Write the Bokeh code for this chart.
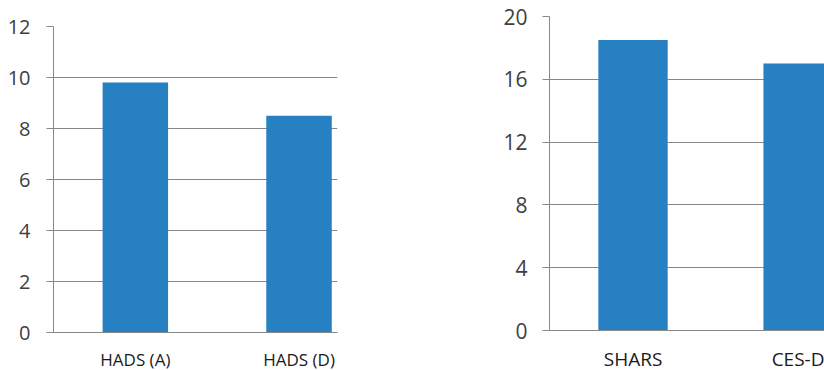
from bokeh.plotting import figure
from bokeh.layouts import row, column
from bokeh.models import Range1d, FixedTicker, SingleIntervalTicker
from bokeh.embed import file_html
from bokeh.resources import INLINE

# ---- data ----
categories_left = ["HADS (A)", "HADS (D)"]
values_left = [9.8, 8.5]
categories_right = ["SHARS", "CES-D"]
values_right = [18.5, 17.0]

BAR = "#2680C2"
GRID = "#888888"
FONT = "Open Sans"


def make(cats, vals, fw, fh, xr, yr, interval, bar_w, tick_size, cat_size,
         border, tick_standoff, cat_standoff):
    xs = list(range(len(cats)))
    p = figure(frame_width=fw, frame_height=fh, output_backend="svg", toolbar_location=None,
               title=None, x_range=Range1d(*xr), y_range=Range1d(*yr))
    p.min_border_left, p.min_border_right, p.min_border_top, p.min_border_bottom = border
    p.outline_line_color = None
    p.background_fill_color = "white"
    p.border_fill_color = "white"
    p.vbar(x=xs, top=vals, width=bar_w, bottom=0, fill_color=BAR, line_color=None)

    p.xgrid.visible = False
    p.ygrid.grid_line_color = GRID
    p.ygrid.grid_line_width = 1
    p.ygrid.ticker = SingleIntervalTicker(interval=interval)

    ya = p.yaxis[0]
    ya.ticker = SingleIntervalTicker(interval=interval)
    ya.axis_line_color = GRID
    ya.major_tick_line_color = GRID
    ya.major_tick_out = 7
    ya.major_tick_in = 0
    ya.minor_tick_line_color = None
    ya.major_label_text_font = FONT
    ya.major_label_text_font_size = f"{tick_size}px"
    ya.major_label_text_color = "#404040"
    ya.major_label_standoff = tick_standoff

    xa = p.xaxis[0]
    xa.ticker = FixedTicker(ticks=xs)
    xa.major_label_overrides = {i: c for i, c in zip(xs, cats)}
    xa.axis_line_color = GRID
    xa.major_tick_line_color = None
    xa.major_tick_out = 0
    xa.major_tick_in = 0
    xa.minor_tick_line_color = None
    xa.major_label_text_font = FONT
    xa.major_label_text_font_size = f"{cat_size}px"
    xa.major_label_text_color = "#1a1a1a"
    xa.major_label_standoff = cat_standoff
    xa.axis_label_standoff = 0
    xa.major_label_text_line_height = 1.0
    return p


p1 = make(categories_left, values_left, 284, 306, (-0.50, 1.235), (0, 12), 2, 0.40,
          20, 17, (53, 123, 26, 38), 16, 15)
p2 = make(categories_right, values_right, 275, 314, (-0.506, 1.16), (0, 20), 4, 0.42,
          21, 19, (89, 0, 16, 40), 15, 15)

layout = row(column(p1), column(p2))
open("out.html", "w").write(file_html(layout, INLINE))
